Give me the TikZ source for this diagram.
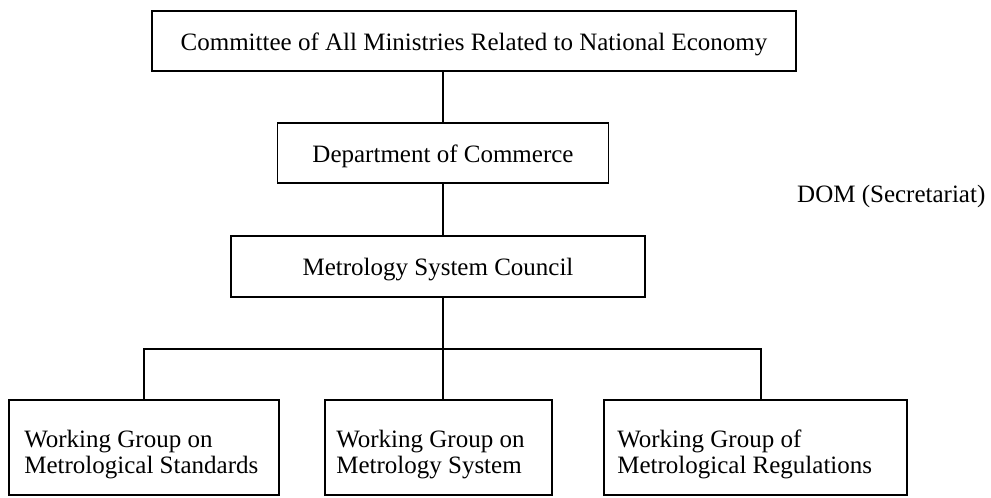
\documentclass[tikz,border=0pt]{standalone}
\usepackage{fontspec}
\setmainfont{Liberation Serif}
\usetikzlibrary{calc}
\begin{document}
\begin{tikzpicture}[x=1pt,y=-1pt,
  box/.style={draw=black, line width=1.8pt, inner sep=0pt, fill=white,
    text height=18pt, text depth=0pt,
    font=\fontsize{25}{29}\selectfont},
  wgbox/.style={draw=black, line width=1.8pt, inner sep=0pt,
    minimum height=95pt},
  wgtext/.style={align=left, inner sep=0pt, anchor=west,
    font=\fontsize{25}{26}\selectfont},
  link/.style={draw=black, line width=1.8pt}]
\useasboundingbox (0,0) rectangle (991,498);

% upper chain of bodies
\node[box, minimum width=644pt, minimum height=60pt] (cam) at (474,41)
  {Committee of All Ministries Related to National Economy};
\node[box, minimum width=331pt, minimum height=60pt] (doc) at (443,153)
  {Department of Commerce};
\node[box, minimum width=414pt, minimum height=61pt] (msc) at (438,266.5)
  {Metrology System Council};
\node[font=\fontsize{25}{29}\selectfont, anchor=base west, inner sep=0pt] (dom)
  at (797,202) {DOM (Secretariat)};

% working groups
\node[wgbox, minimum width=270pt] (wg1) at (144,447.5) {};
\node[wgbox, minimum width=227pt] (wg2) at (438.5,447.5) {};
\node[wgbox, minimum width=303pt] (wg3) at (755.5,447.5) {};
\node[wgtext] (t1) at ($(wg1.west)+(16,7)$)
  {Working Group on\\Metrological Standards};
\node[wgtext] (t2) at ($(wg2.west)+(12,7)$)
  {Working Group on\\Metrology System};
\node[wgtext] (t3) at ($(wg3.west)+(14,7)$)
  {Working Group of\\Metrological Regulations};

% connectors
\coordinate (hub) at (443,349);
\coordinate (drop3) at (761,400);
\draw[link] (doc.north) -- (doc.north |- cam.south);
\draw[link] (doc.south) -- (doc.south |- msc.north);
\draw[link] (hub |- msc.south) -- (hub);
\draw[link] (wg1.north) |- (hub) -| (drop3);
\draw[link] (hub) -- (hub |- wg2.north);
\end{tikzpicture}
\end{document}
